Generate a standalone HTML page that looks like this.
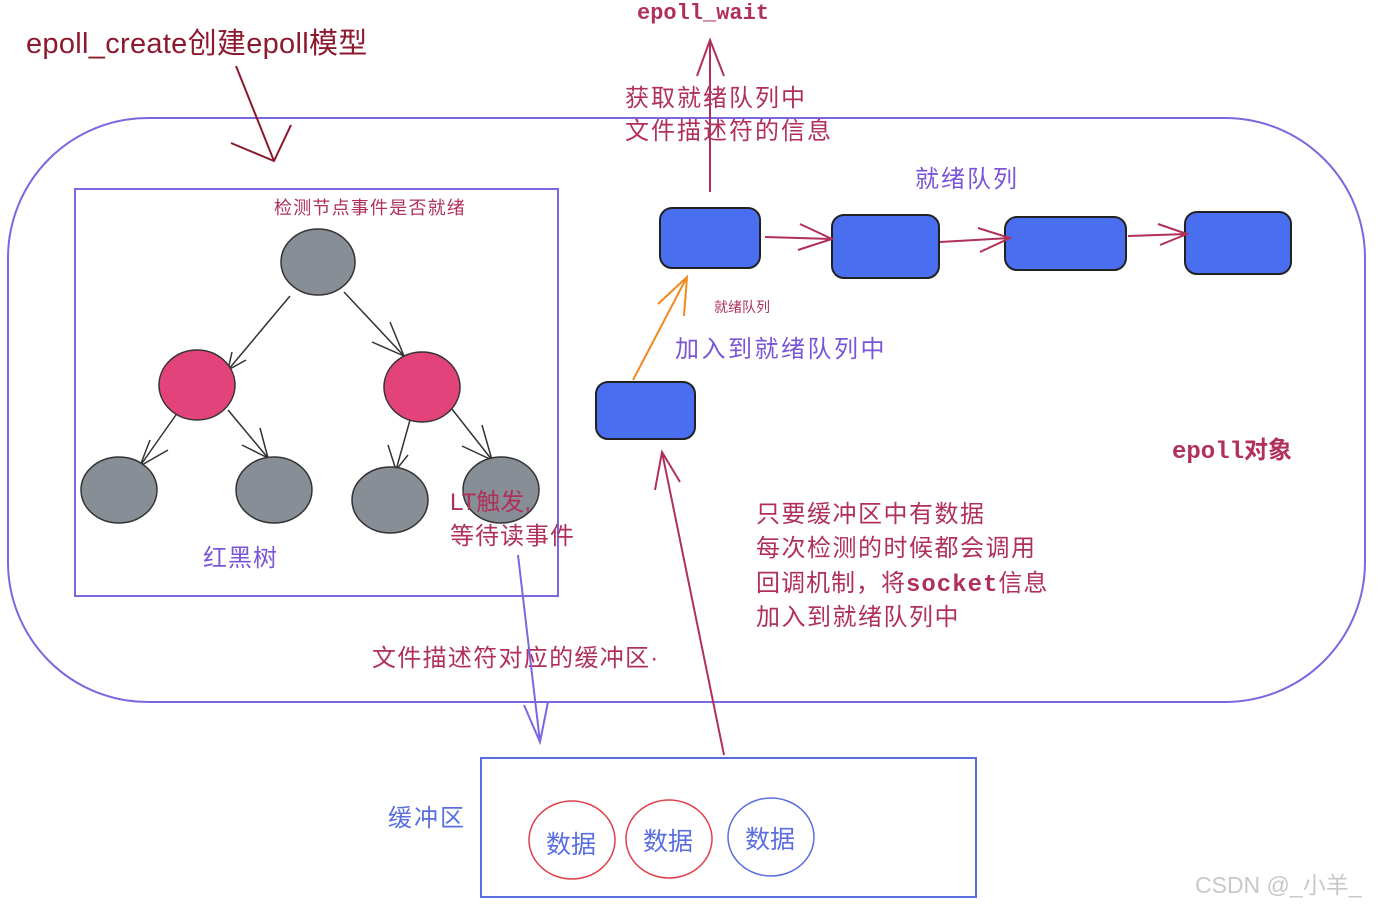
<!DOCTYPE html>
<html><head><meta charset="utf-8"><style>
html,body{margin:0;padding:0;background:#fff;width:1379px;height:908px;overflow:hidden}
svg{display:block}
text{font-family:"Liberation Sans","Noto Sans CJK SC",sans-serif}
.m{font-family:"Liberation Mono","Noto Sans CJK SC",monospace;font-weight:bold}
</style></head><body>
<svg width="1379" height="908" viewBox="0 0 1379 908">
<rect x="8" y="118" width="1357" height="584" rx="140" ry="140" fill="none" stroke="#7a68e0" stroke-width="2"/>
<rect x="75" y="189" width="483" height="407" fill="none" stroke="#7a68e0" stroke-width="2"/>
<text x="26" y="53" font-size="29" fill="#8b1a2e" letter-spacing="0.3">epoll_create创建epoll模型</text>
<g stroke="#8b1a2e" stroke-width="2" fill="none"><path d="M236 66 L274 161 M231 143 L274 161 L291 125"/></g>
<text x="637" y="19" font-size="22" class="m" fill="#b0305a">epoll_wait</text>
<g stroke="#b0305a" stroke-width="2" fill="none"><path d="M710 192 L710 40 M697 76 L710 40 L724 76"/></g>
<text x="625" y="106" font-size="24" fill="#b0305a" letter-spacing="2">获取就绪队列中</text>
<text x="625" y="139" font-size="24" fill="#b0305a" letter-spacing="2">文件描述符的信息</text>
<text x="274" y="214" font-size="18" fill="#b0305a" letter-spacing="1.2">检测节点事件是否就绪</text>
<text x="915" y="187" font-size="24" fill="#7a55d8" letter-spacing="2">就绪队列</text>
<g stroke="#333" stroke-width="1.5" fill="none">
<path d="M290 296 L228 370 M232 352 L228 370 L246 360"/>
<path d="M344 292 L404 356 M390 322 L404 356 L372 342"/>
<path d="M178 412 L140 466 M150 440 L140 466 L168 450"/>
<path d="M228 410 L268 458 M260 428 L268 458 L242 445"/>
<path d="M410 420 L396 470 M388 445 L396 470 L408 455"/>
<path d="M448 404 L492 460 M482 425 L492 460 L462 446"/>
</g>
<ellipse cx="318" cy="262" rx="37" ry="33" fill="#878e96" stroke="#333" stroke-width="1.5"/>
<ellipse cx="197" cy="385" rx="38" ry="35" fill="#e2437a" stroke="#333" stroke-width="1.5"/>
<ellipse cx="422" cy="387" rx="38" ry="35" fill="#e2437a" stroke="#333" stroke-width="1.5"/>
<ellipse cx="119" cy="490" rx="38" ry="33" fill="#878e96" stroke="#333" stroke-width="1.5"/>
<ellipse cx="274" cy="490" rx="38" ry="33" fill="#878e96" stroke="#333" stroke-width="1.5"/>
<ellipse cx="390" cy="500" rx="38" ry="33" fill="#878e96" stroke="#333" stroke-width="1.5"/>
<ellipse cx="501" cy="490" rx="38" ry="33" fill="#878e96" stroke="#333" stroke-width="1.5"/>
<text x="203" y="566" font-size="24" fill="#7a55d8" letter-spacing="1">红黑树</text>
<text x="450" y="510" font-size="24" fill="#b0305a">LT触发,</text>
<text x="450" y="544" font-size="24" fill="#b0305a" letter-spacing="1">等待读事件</text>
<g fill="#4a6ef0" stroke="#222" stroke-width="2">
<rect x="660" y="208" width="100" height="60" rx="12"/>
<rect x="832" y="215" width="107" height="63" rx="12"/>
<rect x="1005" y="217" width="121" height="53" rx="12"/>
<rect x="1185" y="212" width="106" height="62" rx="12"/>
<rect x="596" y="382" width="99" height="57" rx="12"/>
</g>
<g stroke="#b0305a" stroke-width="2" fill="none">
<path d="M765 237 L832 239 M800 224 L832 239 L798 250"/>
<path d="M940 242 L1010 238 M978 228 L1010 238 L980 252"/>
<path d="M1128 236 L1187 234 M1158 224 L1187 234 L1160 245"/>
<path d="M724 755 L662 452 M655 490 L662 452 L680 482"/>
</g>
<g stroke="#f08a20" stroke-width="2" fill="none"><path d="M633 380 L687 277 M658 304 L687 277 L684 316"/></g>
<text x="714" y="312" font-size="14" fill="#b0305a">就绪队列</text>
<text x="675" y="357" font-size="24" fill="#7a55d8" letter-spacing="2.5">加入到就绪队列中</text>
<text x="1172" y="458" font-size="24" class="m" fill="#b0305a">epoll对象</text>
<text x="756" y="522" font-size="24" fill="#b0305a" letter-spacing="1.5">只要缓冲区中有数据</text>
<text x="756" y="556" font-size="24" fill="#b0305a" letter-spacing="1.5">每次检测的时候都会调用</text>
<text x="756" y="591" font-size="24" fill="#b0305a" letter-spacing="1">回调机制，将<tspan class="m">socket</tspan>信息</text>
<text x="756" y="625" font-size="24" fill="#b0305a" letter-spacing="1.5">加入到就绪队列中</text>
<text x="372" y="666" font-size="24" fill="#b0305a" letter-spacing="1.3">文件描述符对应的缓冲区·</text>
<g stroke="#7a68e0" stroke-width="2" fill="none"><path d="M518 555 L540 742 M524 705 L540 742 L548 702"/></g>
<rect x="481" y="758" width="495" height="139" fill="none" stroke="#5a6ee0" stroke-width="2"/>
<text x="388" y="826" font-size="24" fill="#5a6ee0" letter-spacing="2">缓冲区</text>
<ellipse cx="572" cy="840" rx="43" ry="39" fill="none" stroke="#e0404a" stroke-width="1.5"/>
<ellipse cx="669" cy="839" rx="43" ry="39" fill="none" stroke="#e0404a" stroke-width="1.5"/>
<ellipse cx="771" cy="837" rx="43" ry="39" fill="none" stroke="#5a6ee0" stroke-width="1.5"/>
<text x="546" y="853" font-size="25" fill="#5a6ee0">数据</text>
<text x="643" y="850" font-size="25" fill="#5a6ee0">数据</text>
<text x="745" y="848" font-size="25" fill="#5a6ee0">数据</text>
<text x="1195" y="893" font-size="23" fill="#c8c8c8">CSDN @_小羊_</text>
</svg>
</body></html>
